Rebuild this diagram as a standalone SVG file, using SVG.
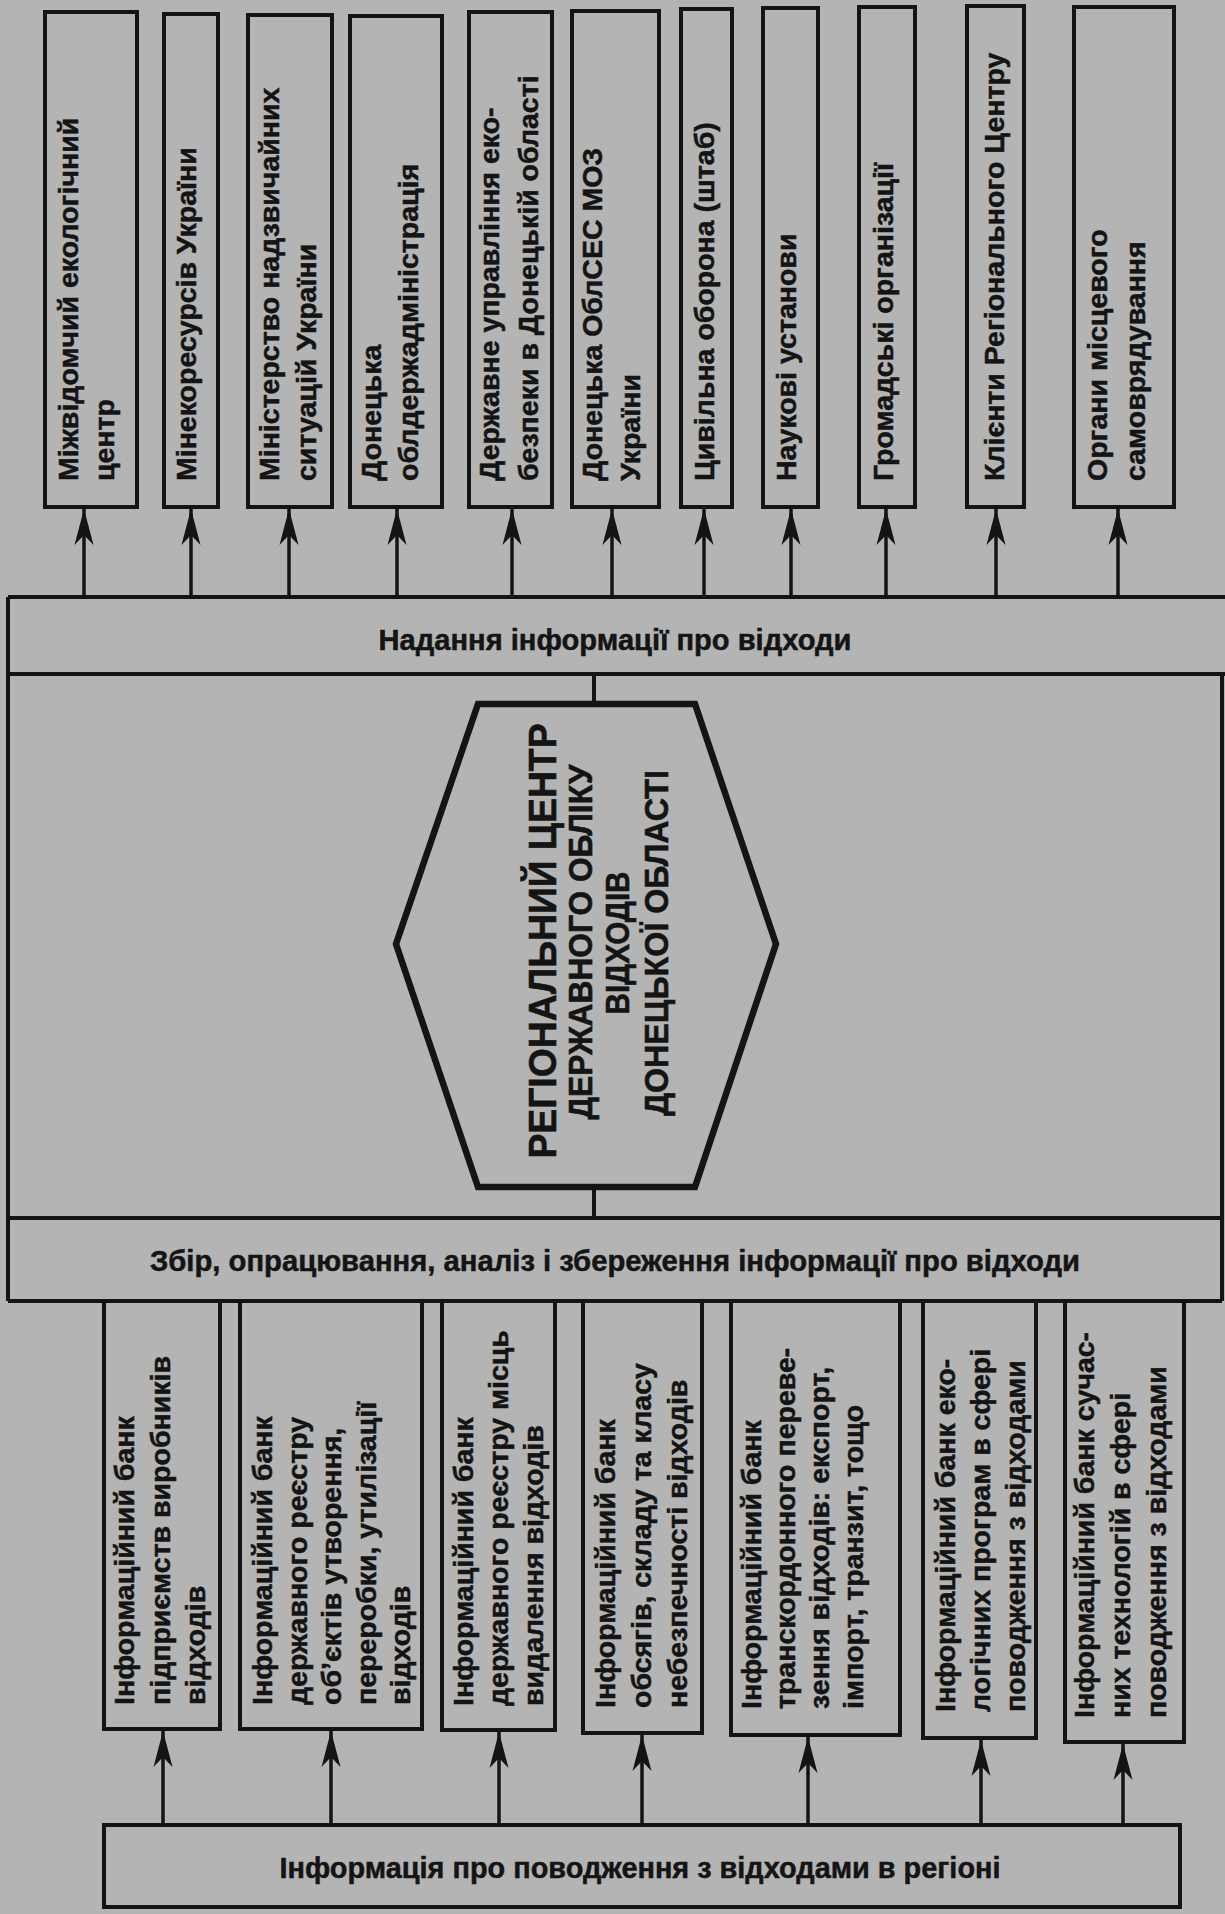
<svg xmlns="http://www.w3.org/2000/svg" width="1225" height="1914" viewBox="0 0 1225 1914">
<style>
.bg{fill:#b4b4b4}
.box{fill:#b4b4b4;stroke:#141414;stroke-width:4}
.ln{stroke:#141414;stroke-width:4;fill:none}
.ar{stroke:#141414;stroke-width:3.5;fill:none;marker-end:url(#ah)}
.hex{fill:#b4b4b4;stroke:#141414;stroke-width:6.5;stroke-linejoin:miter}
.t{font-family:"Liberation Sans",Arial,sans-serif;font-weight:bold;font-size:28.5px;fill:#141414;stroke:#141414;stroke-width:0.5}
.bt{font-family:"Liberation Sans",Arial,sans-serif;font-weight:bold;font-size:30px;fill:#141414;stroke:#141414;stroke-width:0.5;text-anchor:middle}
.ht{font-family:"Liberation Sans",Arial,sans-serif;font-weight:bold;fill:#141414;stroke:#141414;stroke-width:0.6;text-anchor:middle}
</style>
<defs>
<marker id="ah" markerUnits="userSpaceOnUse" markerWidth="38" markerHeight="22" refX="36" refY="11" orient="auto" viewBox="0 0 38 22">
<path d="M0,1.5 L36,11 L0,20.5 L10,11 Z" fill="#141414"/>
</marker>
</defs>
<rect class="bg" x="0" y="0" width="1225" height="1914"/>

<g id="connectors">
<path class="ar" d="M84,597 V509"/>
<path class="ar" d="M191,597 V509"/>
<path class="ar" d="M289,597 V509"/>
<path class="ar" d="M397,597 V509"/>
<path class="ar" d="M512,597 V509"/>
<path class="ar" d="M612,597 V509"/>
<path class="ar" d="M704,597 V509"/>
<path class="ar" d="M791,597 V509"/>
<path class="ar" d="M886,597 V509"/>
<path class="ar" d="M996,597 V509"/>
<path class="ar" d="M1118,597 V509"/>
<path class="ln" d="M594,674 V704"/>
<path class="ln" d="M594,1187 V1218"/>
<path class="ar" d="M163,1825 V1731"/>
<path class="ar" d="M331,1825 V1731"/>
<path class="ar" d="M499,1825 V1732"/>
<path class="ar" d="M642,1826 V1735"/>
<path class="ar" d="M808,1827 V1737"/>
<path class="ar" d="M981,1828 V1740"/>
<path class="ar" d="M1123,1829 V1744"/>
</g>

<g id="top-boxes">
<g id="t1"><rect class="box" x="45" y="12" width="92" height="495"/>
<text class="t" transform="translate(78,481) rotate(-90)"><tspan x="0" y="0">Міжвідомчий екологічний</tspan><tspan x="0" y="36">центр</tspan></text></g>
<g id="t2"><rect class="box" x="164" y="14" width="54" height="493"/>
<text class="t" transform="translate(196,481) rotate(-90)">Мінекоресурсів України</text></g>
<g id="t3"><rect class="box" x="248" y="15" width="84" height="492"/>
<text class="t" transform="translate(279,481) rotate(-90)"><tspan x="0" y="0">Міністерство надзвичайних</tspan><tspan x="0" y="37">ситуацій України</tspan></text></g>
<g id="t4"><rect class="box" x="350" y="16" width="92" height="491"/>
<text class="t" transform="translate(381,481) rotate(-90)"><tspan x="0" y="0">Донецька</tspan><tspan x="0" y="37">облдержадміністрація</tspan></text></g>
<g id="t5"><rect class="box" x="469" y="12" width="83" height="495"/>
<text class="t" transform="translate(499,481) rotate(-90)"><tspan x="0" y="0">Державне управління еко-</tspan><tspan x="0" y="39">безпеки в Донецькій області</tspan></text></g>
<g id="t6"><rect class="box" x="572" y="11" width="87" height="496"/>
<text class="t" transform="translate(602,481) rotate(-90)"><tspan x="0" y="0">Донецька ОблСЕС МОЗ</tspan><tspan x="0" y="38">України</tspan></text></g>
<g id="t7"><rect class="box" x="681" y="9" width="51" height="498"/>
<text class="t" transform="translate(714,481) rotate(-90)">Цивільна оборона (штаб)</text></g>
<g id="t8"><rect class="box" x="763" y="8" width="55" height="499"/>
<text class="t" transform="translate(796,481) rotate(-90)">Наукові установи</text></g>
<g id="t9"><rect class="box" x="859" y="7" width="56" height="500"/>
<text class="t" transform="translate(893,481) rotate(-90)">Громадські організації</text></g>
<g id="t10"><rect class="box" x="967" y="6" width="57" height="501"/>
<text class="t" transform="translate(1004,481) rotate(-90)">Клієнти Регіонального Центру</text></g>
<g id="t11"><rect class="box" x="1074" y="7" width="100" height="500"/>
<text class="t" transform="translate(1107,481) rotate(-90)"><tspan x="0" y="0">Органи місцевого</tspan><tspan x="0" y="38">самоврядування</tspan></text></g>
</g>

<g id="frame">
<path class="ln" d="M8,597 H1225 M8,674 H1225 M8,1218 H1222 M8,1301 H1222 M8,597 V1301 M1222,674 V1301"/>
</g>
<g id="band-top"><text class="bt" x="615" y="650" textLength="473" lengthAdjust="spacingAndGlyphs">Надання інформації про відходи</text></g>
<g id="band-mid"><text class="bt" x="615" y="1271" textLength="930" lengthAdjust="spacingAndGlyphs">Збір, опрацювання, аналіз і збереження інформації про відходи</text></g>

<g id="center">
<polygon class="hex" points="478,704 695,704 776,944 695,1187 478,1187 396,944"/>
<text class="ht" font-size="38" transform="translate(556,941) rotate(-90)" textLength="435" lengthAdjust="spacingAndGlyphs">РЕГІОНАЛЬНИЙ ЦЕНТР</text>
<text class="ht" font-size="34" transform="translate(592,942) rotate(-90)" textLength="355" lengthAdjust="spacingAndGlyphs">ДЕРЖАВНОГО ОБЛІКУ</text>
<text class="ht" font-size="34" transform="translate(629,943) rotate(-90)" textLength="143" lengthAdjust="spacingAndGlyphs">ВІДХОДІВ</text>
<text class="ht" font-size="34" transform="translate(668,943) rotate(-90)" textLength="346" lengthAdjust="spacingAndGlyphs">ДОНЕЦЬКОЇ ОБЛАСТІ</text>
</g>

<g id="bottom-boxes">
<g id="b1"><rect class="box" x="104" y="1301" width="116" height="428"/>
<text class="t" transform="translate(134,1705) rotate(-90)"><tspan x="0" y="0">Інформаційний банк</tspan><tspan x="0" y="36">підприємств виробників</tspan><tspan x="0" y="71">відходів</tspan></text></g>
<g id="b2"><rect class="box" x="240" y="1301" width="182" height="428"/>
<text class="t" transform="translate(272,1705) rotate(-90)"><tspan x="0" y="0">Інформаційний банк</tspan><tspan x="0" y="34.5">державного реєстру</tspan><tspan x="0" y="69">об’єктів утворення,</tspan><tspan x="0" y="103.5">переробки, утилізації</tspan><tspan x="0" y="138">відходів</tspan></text></g>
<g id="b3"><rect class="box" x="442" y="1301" width="113" height="429"/>
<text class="t" transform="translate(473,1706) rotate(-90)"><tspan x="0" y="0">Інформаційний банк</tspan><tspan x="0" y="35">державного реєстру місць</tspan><tspan x="0" y="70">видалення відходів</tspan></text></g>
<g id="b4"><rect class="box" x="583" y="1301" width="119" height="432"/>
<text class="t" transform="translate(615,1708) rotate(-90)"><tspan x="0" y="0">Інформаційний банк</tspan><tspan x="0" y="36">обсягів, складу та класу</tspan><tspan x="0" y="72">небезпечності відходів</tspan></text></g>
<g id="b5"><rect class="box" x="731" y="1301" width="169" height="434"/>
<text class="t" transform="translate(761,1709) rotate(-90)"><tspan x="0" y="0">Інформаційний банк</tspan><tspan x="0" y="34">транскордонного переве-</tspan><tspan x="0" y="68">зення відходів: експорт,</tspan><tspan x="0" y="102">імпорт, транзит, тощо</tspan></text></g>
<g id="b6"><rect class="box" x="923" y="1301" width="113" height="437"/>
<text class="t" transform="translate(955,1712) rotate(-90)"><tspan x="0" y="0">Інформаційний банк еко-</tspan><tspan x="0" y="35">логічних програм в сфері</tspan><tspan x="0" y="70">поводження з відходами</tspan></text></g>
<g id="b7"><rect class="box" x="1065" y="1301" width="119" height="441"/>
<text class="t" transform="translate(1094,1718) rotate(-90)"><tspan x="0" y="0">Інформаційний банк сучас-</tspan><tspan x="0" y="36">них технологій в сфері</tspan><tspan x="0" y="72">поводження з відходами</tspan></text></g>
</g>

<g id="bottom-band"><rect class="box" x="104" y="1825" width="1076" height="82"/>
<text class="bt" x="640" y="1878" textLength="721" lengthAdjust="spacingAndGlyphs">Інформація про поводження з відходами в регіоні</text></g>
</svg>
